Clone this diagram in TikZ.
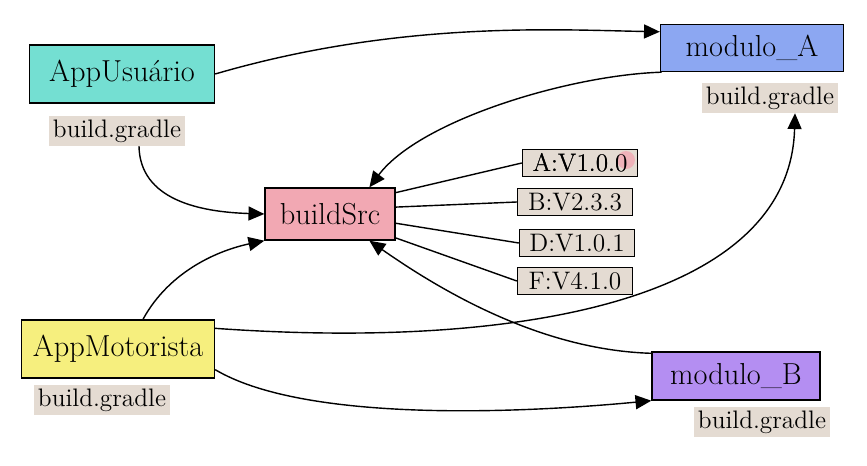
\documentclass[tikz,border=0pt]{standalone}
\usepackage{tikz}
\usetikzlibrary{arrows.meta,calc}
\definecolor{usuario}{HTML}{74DFD2}
\definecolor{motorista}{HTML}{F6EF7E}
\definecolor{srcpink}{HTML}{F2A8B3}
\definecolor{modablue}{HTML}{8CA7F2}
\definecolor{modbpurple}{HTML}{B48EF2}
\definecolor{beige}{HTML}{E4DBD2}
\tikzset{
  modbox/.style={draw=black,thick,font=\LARGE,inner sep=3pt},
  gradle/.style={fill=beige,font=\Large,inner sep=2pt},
  verbox/.style={draw=black,thick,fill=beige,font=\Large,minimum width=2.3cm,minimum height=0.54cm,inner sep=1pt},
  dep/.style={thick,-{Triangle[length=9pt,width=8pt]}},
}

\begin{document}
\begin{tikzpicture}[x=0.02cm,y=-0.02cm]
    \useasboundingbox (0,0) rectangle (867,466);
    % apps
    \node[modbox,fill=usuario,minimum width=3.7cm,minimum height=1.16cm] (usuario) at (122,74) {AppUsuário};
    \node[gradle] (gUsuario) at (117,131) {build.gradle};
    \node[modbox,fill=motorista,minimum width=3.86cm,minimum height=1.16cm] (motorista) at (118,349) {AppMotorista};
    \node[gradle] (gMotorista) at (102,400) {build.gradle};
    % buildSrc
    \node[modbox,fill=srcpink,minimum width=2.6cm,minimum height=1.04cm] (src) at (330,214) {buildSrc};
    % modules
    \node[modbox,fill=modablue,minimum width=3.66cm,minimum height=0.94cm] (modA) at (752,48) {modulo\_A};
    \node[gradle] (gModA) at (770,98) {build.gradle};
    \node[modbox,fill=modbpurple,minimum width=3.36cm,minimum height=0.96cm] (modB) at (736,376) {modulo\_B};
    \node[gradle] (gModB) at (762,422) {build.gradle};
    % versions
    \node[verbox] (verA) at (580,163) {A:V1.0.0};
    \fill[srcpink,opacity=0.8] (626,160) circle (9);
    \node[verbox,fill=none] at (580,163) {A:V1.0.0};
    \node[verbox] (verB) at (575,202) {B:V2.3.3};
    \node[verbox] (verD) at (577,243) {D:V1.0.1};
    \node[verbox] (verF) at (575,281) {F:V4.1.0};
    \draw[thick] (src.18) -- (verA.west);
    \draw[thick] (src.6) -- (verB.west);
    \draw[thick] (src.-8) -- (verD.west);
    \draw[thick] (src.-20) -- (verF.west);

    % dependencies
    \draw[dep] (usuario.east) .. controls (400,20) and (560,30) .. (modA.170);
    \draw[dep] (modA.195) .. controls (570,75) and (420,120) .. ($(src.north)!0.6!(src.north east)$);
    \draw[dep] ($(gUsuario.south)+(22,0)$) .. controls (140,200) and (200,212) .. (src.west);
    \draw[dep] ($(motorista.north)+(25,0)$) .. controls (170,270) and (220,250) .. (src.south west);
    \draw[dep] (motorista.12) .. controls (520,350) and (790,300) .. ($(gModA.south)+(25,0)$);
    \draw[dep] (motorista.-12) .. controls (300,420) and (500,415) .. (modB.south west);
    \draw[dep] (modB.165) .. controls (540,350) and (440,290) .. ($(src.south)!0.6!(src.south east)$);
\end{tikzpicture}
\end{document}
